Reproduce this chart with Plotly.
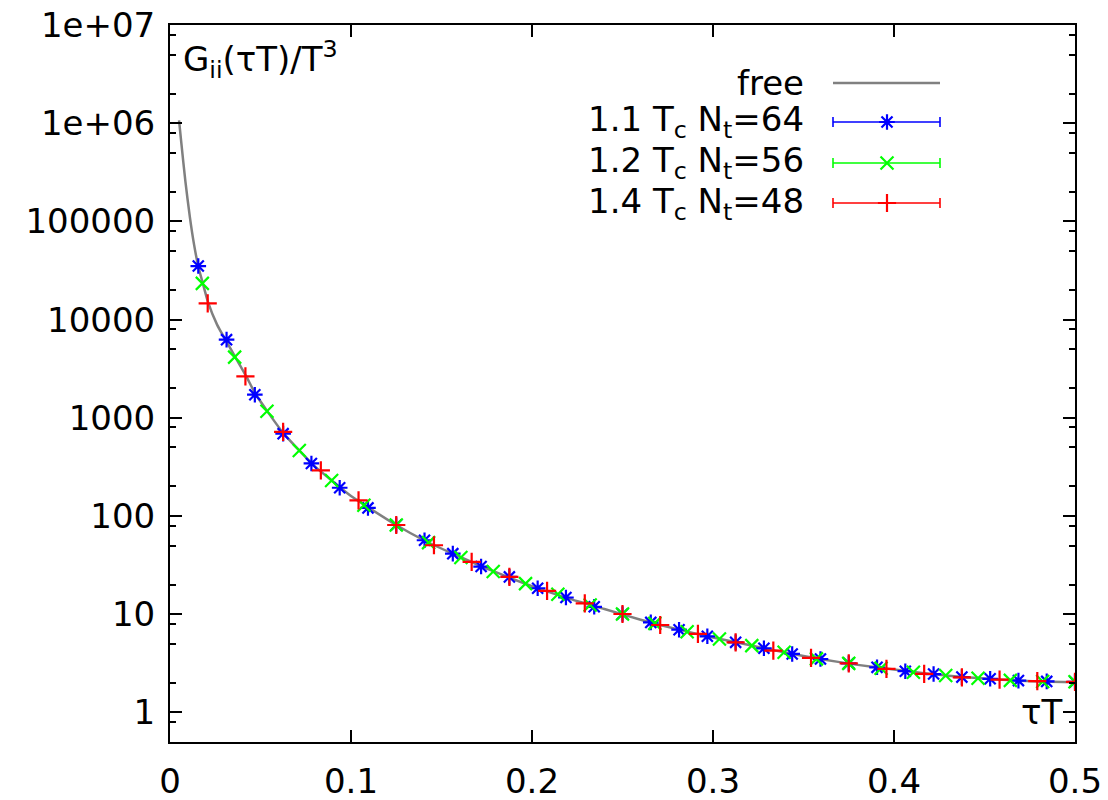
import plotly.graph_objects as go

# ---------------- data ----------------
free_tau = [0.005, 0.0063, 0.0085, 0.011, 0.0133, 0.0156, 0.018, 0.021, 0.026, 0.031,
            0.036, 0.042, 0.047, 0.054, 0.0625, 0.0714, 0.08, 0.09, 0.1, 0.11,
            0.125, 0.14, 0.16, 0.18, 0.2, 0.22, 0.24, 0.26, 0.28, 0.30,
            0.32, 0.34, 0.36, 0.38, 0.40, 0.42, 0.44, 0.46, 0.48, 0.5]
free_G = [1.07e6, 6.2e5, 2.55e5, 1.10e5, 5.8e4, 3.5e4, 2.39e4, 1.51e4, 8.9e3, 6.07e3,
          4.17e3, 2.67e3, 1.78e3, 1.15e3, 702, 465, 320, 225, 160, 121,
          81, 57, 38.5, 26.8, 19.3, 14.5, 11.3, 8.8, 7.05, 5.8,
          4.85, 4.07, 3.48, 3.05, 2.73, 2.47, 2.28, 2.15, 2.07, 2.03]

nt64_tau = [k / 64 for k in range(1, 33)]
nt64_G = [35100, 6250, 1720, 690, 343, 194, 121, 81, 56.7, 41.4, 30.6, 24.0, 18.4, 14.8,
          11.9, 10.05, 8.26, 6.96, 5.96, 5.17, 4.50, 3.94, 3.50, 3.16, 2.88, 2.63,
          2.46, 2.29, 2.20, 2.11, 2.07, 2.05]

nt56_tau = [k / 56 for k in range(1, 29)]
nt56_G = [23400, 4150, 1165, 465, 230, 129, 81, 53.6, 37.8, 27.2, 20.5, 16.0, 12.4, 10.05,
          8.07, 6.64, 5.60, 4.79, 4.10, 3.51, 3.16, 2.82, 2.57, 2.38, 2.23, 2.12, 2.07, 2.05]

nt48_tau = [k / 48 for k in range(1, 25)]
nt48_G = [14650, 2640, 718, 291, 144, 81, 50.4, 34.1, 24.0, 17.3, 12.9, 10.05,
          7.77, 6.30, 5.17, 4.26, 3.59, 3.16, 2.78, 2.47, 2.28, 2.16, 2.08, 2.05]

legend_labels = ["free", "1.1 T<sub>c</sub> N<sub>t</sub>=64",
                 "1.2 T<sub>c</sub> N<sub>t</sub>=56", "1.4 T<sub>c</sub> N<sub>t</sub>=48"]

x_ticks = [0, 0.1, 0.2, 0.3, 0.4, 0.5]
x_ticktext = ["0", "0.1", "0.2", "0.3", "0.4", "0.5"]
y_ticks = [1, 10, 100, 1000, 10000, 100000, 1e6, 1e7]
y_ticktext = ["1", "10", "100", "1000", "10000", "100000", "1e+06", "1e+07"]
y_minor = [m * 10 ** e for e in range(-1, 7) for m in (2, 5, 8)]

# ---------------- style ----------------
FONT = "DejaVu Sans, Verdana, sans-serif"
FS = 34
GRAY = "#808080"
BLUE = "#0000ff"
GREEN = "#00ff00"
RED = "#ff0000"

W, H = 1108, 800
ML, MR, MT, MB = 170, 33, 25, 58
PW, PH = W - ML - MR, H - MT - MB


def px_x(p):
    return (p - ML) / PW


def px_y(p):
    return (H - MB - p) / PH


fig = go.Figure()

fig.add_trace(go.Scatter(x=free_tau, y=free_G, mode="lines",
                         line=dict(color=GRAY, width=2.5, shape="spline", smoothing=0.6),
                         showlegend=False, hoverinfo="skip"))

series = [
    (nt64_tau, nt64_G, BLUE, "asterisk-open"),
    (nt56_tau, nt56_G, GREEN, "x-thin-open"),
    (nt48_tau, nt48_G, RED, "cross-thin-open"),
]
for tx, gy, col, sym in series:
    fig.add_trace(go.Scatter(x=tx, y=gy, mode="markers",
                             marker=dict(symbol=sym, size=13, color=col, line=dict(color=col, width=2.2)),
                             showlegend=False, hoverinfo="skip"))

# ---------------- hand-made gnuplot-style key ----------------
key_text_right = px_x(806)
key_x0, key_x1 = px_x(833), px_x(940)
key_mid = px_x(887)
key_rows = [px_y(83), px_y(122), px_y(163), px_y(203)]
key_cols = [GRAY, BLUE, GREEN, RED]
key_syms = [None, "asterisk-open", "x-thin-open", "cross-thin-open"]

shapes = []
for i, (yy, col) in enumerate(zip(key_rows, key_cols)):
    shapes.append(dict(type="line", xref="paper", yref="paper", x0=key_x0, x1=key_x1, y0=yy, y1=yy,
                       line=dict(color=col, width=2.5 if i == 0 else 1.6)))
    if i > 0:
        for xc in (key_x0, key_x1):
            shapes.append(dict(type="line", xref="paper", yref="paper", x0=xc, x1=xc,
                               y0=yy - 5 / PH, y1=yy + 5 / PH, line=dict(color=col, width=1.6)))
    if key_syms[i] is not None:
        fig.add_trace(go.Scatter(x=[key_mid], y=[yy], xaxis="x2", yaxis="y2", mode="markers",
                                 marker=dict(symbol=key_syms[i], size=13, color=col,
                                             line=dict(color=col, width=2.2)),
                                 showlegend=False, hoverinfo="skip"))

annotations = []
for lab, yy in zip(legend_labels, key_rows):
    annotations.append(dict(text=lab, xref="paper", yref="paper", x=key_text_right, y=yy,
                            xanchor="right", yanchor="middle", showarrow=False,
                            font=dict(family=FONT, size=FS, color="black")))

annotations.append(dict(text="G<sub>ii</sub>(τT)/T<sup>3</sup>", xref="paper", yref="paper",
                        x=px_x(181), y=px_y(33), xanchor="left", yanchor="top", showarrow=False,
                        font=dict(family=FONT, size=FS, color="black")))
annotations.append(dict(text="τT", xref="paper", yref="paper",
                        x=px_x(1064), y=px_y(712), xanchor="right", yanchor="middle", showarrow=False,
                        font=dict(family=FONT, size=FS, color="black")))

axis_common = dict(showline=True, linecolor="black", linewidth=2, mirror="ticks",
                   ticks="inside", ticklen=12, tickwidth=2, tickcolor="black",
                   showgrid=False, zeroline=False, automargin=False,
                   tickfont=dict(family=FONT, size=FS, color="black"))

fig.update_layout(
    width=W, height=H,
    margin=dict(l=ML, r=MR, t=MT, b=MB, autoexpand=False),
    paper_bgcolor="white", plot_bgcolor="white",
    shapes=shapes, annotations=annotations,
    xaxis=dict(range=[0, 0.5], tickmode="array", tickvals=x_ticks, ticktext=x_ticktext,
               ticklabelstandoff=8, **axis_common),
    yaxis=dict(type="log", range=[-0.30103, 7], tickmode="array", tickvals=y_ticks, ticktext=y_ticktext,
               ticklabelstandoff=6,
               minor=dict(tickmode="array", tickvals=y_minor, ticks="inside", ticklen=6,
                          tickwidth=2, tickcolor="black", showgrid=False),
               **axis_common),
    xaxis2=dict(overlaying="x", range=[0, 1], visible=False),
    yaxis2=dict(overlaying="y", range=[0, 1], visible=False),
    showlegend=False,
)

fig.write_html("out.html", config={"displayModeBar": False},
               post_script="document.body.style.margin='0';document.body.style.overflow='hidden';")
